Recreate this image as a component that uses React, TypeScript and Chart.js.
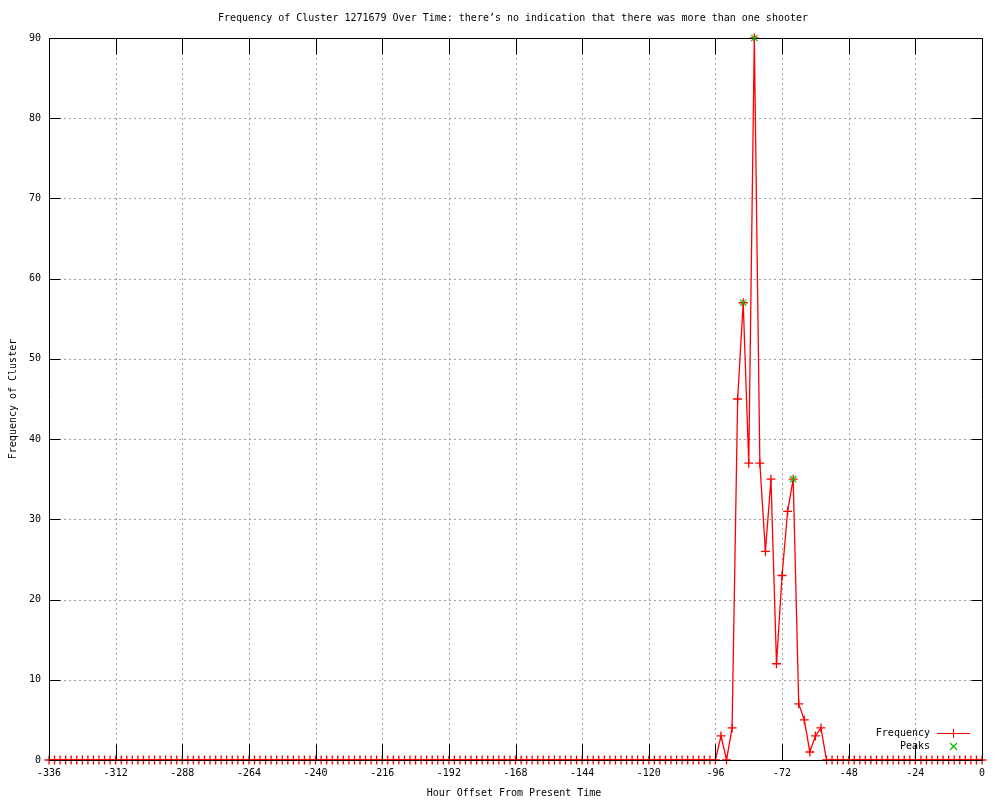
import React, { useEffect, useRef } from "react";
import { Chart, registerables } from "chart.js";
Chart.register(...registerables);

const TITLE = "Frequency of Cluster 1271679 Over Time: there’s no indication that there was more than one shooter";
const X_TITLE = "Hour Offset From Present Time";
const Y_TITLE = "Frequency of Cluster";
const SERIES_NAMES = ["Frequency", "Peaks"];

const hours = [
  -336, -334, -332, -330, -328, -326, -324, -322, -320, -318, -316, -314,
  -312, -310, -308, -306, -304, -302, -300, -298, -296, -294, -292, -290,
  -288, -286, -284, -282, -280, -278, -276, -274, -272, -270, -268, -266,
  -264, -262, -260, -258, -256, -254, -252, -250, -248, -246, -244, -242,
  -240, -238, -236, -234, -232, -230, -228, -226, -224, -222, -220, -218,
  -216, -214, -212, -210, -208, -206, -204, -202, -200, -198, -196, -194,
  -192, -190, -188, -186, -184, -182, -180, -178, -176, -174, -172, -170,
  -168, -166, -164, -162, -160, -158, -156, -154, -152, -150, -148, -146,
  -144, -142, -140, -138, -136, -134, -132, -130, -128, -126, -124, -122,
  -120, -118, -116, -114, -112, -110, -108, -106, -104, -102, -100, -98,
  -96, -94, -92, -90, -88, -86, -84, -82, -80, -78, -76, -74,
  -72, -70, -68, -66, -64, -62, -60, -58, -56, -54, -52, -50,
  -48, -46, -44, -42, -40, -38, -36, -34, -32, -30, -28, -26,
  -24, -22, -20, -18, -16, -14, -12, -10, -8, -6, -4, -2,
  0,
];

const frequency = [
  0, 0, 0, 0, 0, 0, 0, 0, 0, 0, 0, 0,
  0, 0, 0, 0, 0, 0, 0, 0, 0, 0, 0, 0,
  0, 0, 0, 0, 0, 0, 0, 0, 0, 0, 0, 0,
  0, 0, 0, 0, 0, 0, 0, 0, 0, 0, 0, 0,
  0, 0, 0, 0, 0, 0, 0, 0, 0, 0, 0, 0,
  0, 0, 0, 0, 0, 0, 0, 0, 0, 0, 0, 0,
  0, 0, 0, 0, 0, 0, 0, 0, 0, 0, 0, 0,
  0, 0, 0, 0, 0, 0, 0, 0, 0, 0, 0, 0,
  0, 0, 0, 0, 0, 0, 0, 0, 0, 0, 0, 0,
  0, 0, 0, 0, 0, 0, 0, 0, 0, 0, 0, 0,
  0, 3, 0, 4, 45, 57, 37, 90, 37, 26, 35, 12,
  23, 31, 35, 7, 5, 1, 3, 4, 0, 0, 0, 0,
  0, 0, 0, 0, 0, 0, 0, 0, 0, 0, 0, 0,
  0, 0, 0, 0, 0, 0, 0, 0, 0, 0, 0, 0,
  0,
];

const peakHours = [-86, -82, -68];
const peakValues = [57, 90, 35];

const xTicks = [-336, -312, -288, -264, -240, -216, -192, -168, -144, -120, -96, -72, -48, -24, 0];
const yTicks = [0, 10, 20, 30, 40, 50, 60, 70, 80, 90];

const RED = "#ff0000";
const GREEN = "#00c000";
const FONT = "10px 'DejaVu Sans Mono', monospace";

function drawCross(ctx: CanvasRenderingContext2D, x: number, y: number, r: number, color: string) {
  ctx.strokeStyle = color;
  ctx.lineWidth = 1;
  ctx.beginPath();
  ctx.moveTo(x - r, y + 0.5);
  ctx.lineTo(x + r + 1, y + 0.5);
  ctx.moveTo(x + 0.5, y - r);
  ctx.lineTo(x + 0.5, y + r + 1);
  ctx.stroke();
}

function drawX(ctx: CanvasRenderingContext2D, x: number, y: number, r: number, color: string) {
  ctx.strokeStyle = color;
  ctx.lineWidth = 1.2;
  ctx.beginPath();
  ctx.moveTo(x - r, y - r);
  ctx.lineTo(x + r, y + r);
  ctx.moveTo(x - r, y + r);
  ctx.lineTo(x + r, y - r);
  ctx.stroke();
}

const framePlugin = {
  id: "gnuplotFrame",
  beforeDatasetsDraw(chart: any) {
    const { ctx, chartArea } = chart;
    const xs = chart.scales.x;
    const ys = chart.scales.y;
    ctx.save();
    ctx.strokeStyle = "#a0a0a0";
    ctx.lineWidth = 1;
    ctx.setLineDash([2, 3]);
    ctx.beginPath();
    xTicks.forEach((t) => {
      const px = Math.round(xs.getPixelForValue(t)) + 0.5;
      if (px <= chartArea.left + 1 || px >= chartArea.right - 1) return;
      ctx.moveTo(px, chartArea.top);
      ctx.lineTo(px, chartArea.bottom);
    });
    yTicks.forEach((t) => {
      const py = Math.round(ys.getPixelForValue(t)) + 0.5;
      if (py <= chartArea.top + 1 || py >= chartArea.bottom - 1) return;
      ctx.moveTo(chartArea.left, py);
      ctx.lineTo(chartArea.right, py);
    });
    ctx.stroke();
    ctx.restore();
  },
  afterDatasetDraw(chart: any, args: any) {
    if (args.index !== 0) return;
    const { ctx, chartArea } = chart;
    const xs = chart.scales.x;
    const ys = chart.scales.y;
    const L = Math.round(chartArea.left) + 0.5;
    const R = Math.round(chartArea.right) + 0.5;
    const T = Math.round(chartArea.top) + 0.5;
    const B = Math.round(chartArea.bottom) + 0.5;
    ctx.save();
    ctx.strokeStyle = "#000000";
    ctx.lineWidth = 1;
    ctx.setLineDash([]);
    ctx.beginPath();
    ctx.rect(L, T, R - L, B - T);
    xTicks.forEach((t) => {
      const px = Math.round(xs.getPixelForValue(t)) + 0.5;
      ctx.moveTo(px, B);
      ctx.lineTo(px, B - 16);
      ctx.moveTo(px, T);
      ctx.lineTo(px, T + 16);
    });
    yTicks.forEach((t) => {
      const py = Math.round(ys.getPixelForValue(t)) + 0.5;
      ctx.moveTo(L, py);
      ctx.lineTo(L + 11, py);
      ctx.moveTo(R, py);
      ctx.lineTo(R - 11, py);
    });
    ctx.stroke();
    ctx.restore();
  },
  afterDraw(chart: any) {
    const { ctx, chartArea } = chart;
    const xs = chart.scales.x;
    const ys = chart.scales.y;
    ctx.save();
    ctx.setLineDash([]);
    ctx.globalAlpha = 1;
    ctx.fillStyle = "#000000";
    ctx.font = FONT;
    ctx.textBaseline = "middle";
    // title
    ctx.textAlign = "center";
    ctx.fillText(TITLE, 513, 18);
    // x tick labels
    xTicks.forEach((t) => {
      ctx.fillText(String(t), xs.getPixelForValue(t), 773);
    });
    // x title
    ctx.fillText(X_TITLE, 514, 793);
    // y tick labels
    ctx.textAlign = "right";
    yTicks.forEach((t) => {
      ctx.fillText(String(t), 41, ys.getPixelForValue(t));
    });
    // y title
    ctx.save();
    ctx.translate(13, (chartArea.top + chartArea.bottom) / 2);
    ctx.rotate(-Math.PI / 2);
    ctx.textAlign = "center";
    ctx.fillText(Y_TITLE, 0, 0);
    ctx.restore();
    // legend
    ctx.textAlign = "right";
    ctx.fillStyle = "#000000";
    ctx.fillText(SERIES_NAMES[0], 930, 733);
    ctx.fillText(SERIES_NAMES[1], 930, 746);
    ctx.strokeStyle = RED;
    ctx.lineWidth = 1;
    ctx.beginPath();
    ctx.moveTo(937, 733.5);
    ctx.lineTo(970, 733.5);
    ctx.stroke();
    drawCross(ctx, 953, 733, 4, RED);
    drawX(ctx, 953.5, 746.5, 3.5, GREEN);
    ctx.restore();
  },
};

export default function App() {
  const ref = useRef<HTMLCanvasElement | null>(null);
  useEffect(() => {
    document.body.style.margin = "0";
    document.body.style.background = "#ffffff";
    const canvas = ref.current;
    if (!canvas) return;
    const chart = new Chart(canvas, {
      type: "line",
      data: {
        datasets: [
          {
            label: SERIES_NAMES[0],
            data: hours.map((h, i) => ({ x: h, y: frequency[i] })),
            borderColor: RED,
            backgroundColor: RED,
            borderWidth: 1.3,
            tension: 0,
            pointStyle: "cross",
            pointRadius: 4.5,
            pointBorderWidth: 1.3,
            pointBorderColor: RED,
            pointHoverRadius: 4.5,
            fill: false,
            clip: false as any,
            order: 1,
          },
          {
            label: SERIES_NAMES[1],
            data: peakHours.map((h, i) => ({ x: h, y: peakValues[i] })),
            showLine: false,
            borderColor: GREEN,
            backgroundColor: GREEN,
            pointStyle: "crossRot",
            pointRadius: 4.5,
            pointBorderWidth: 1.2,
            pointBorderColor: GREEN,
            clip: false as any,
            order: 0,
          },
        ],
      },
      options: {
        responsive: false,
        animation: false,
        devicePixelRatio: 1,
        layout: { padding: { left: 49, right: 18, top: 38, bottom: 40 } },
        plugins: {
          legend: { display: false },
          title: { display: false },
          tooltip: { enabled: false },
        },
        events: [],
        scales: {
          x: { type: "linear", min: -336, max: 0, display: false },
          y: { type: "linear", min: 0, max: 90, display: false },
        },
      },
      plugins: [framePlugin],
    });
    return () => chart.destroy();
  }, []);
  return <canvas ref={ref} width={1000} height={800} style={{ display: "block" }} />;
}
